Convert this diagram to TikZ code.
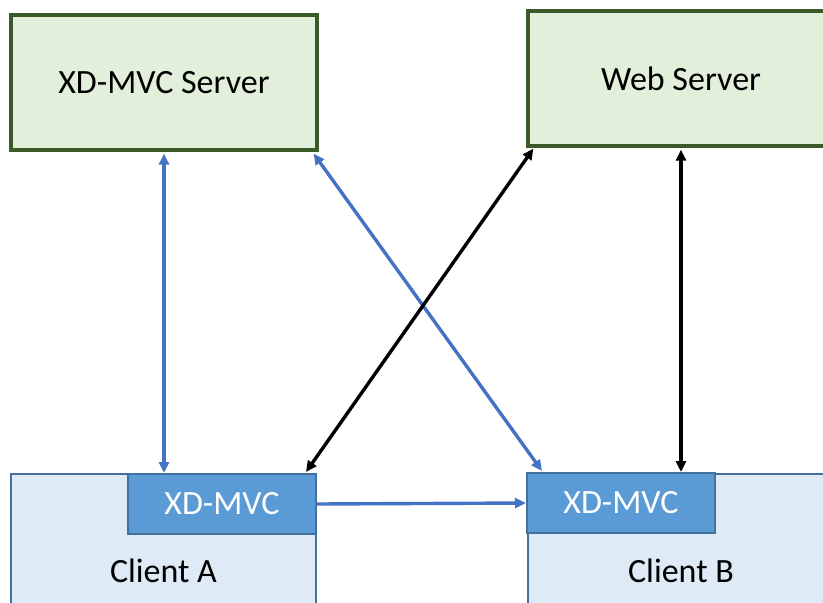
\documentclass[tikz,border=0pt]{standalone}
\usepackage{fontspec}
\setmainfont{Carlito}
\usetikzlibrary{arrows.meta,calc}
\definecolor{srvfill}{HTML}{E2EFDA}
\definecolor{srvline}{HTML}{3A5A28}
\definecolor{clifill}{HTML}{DEEBF7}
\definecolor{cliline}{HTML}{41719C}
\definecolor{mvcfill}{HTML}{5B9BD5}
\definecolor{linkblue}{HTML}{4472C4}
\tikzset{
  serverbox/.style={draw=srvline, fill=srvfill, line width=3.2pt, inner sep=0pt,
    font=\fontsize{34}{40}\selectfont},
  clientbox/.style={draw=cliline, fill=clifill, line width=2.6pt, inner sep=0pt,
    font=\fontsize{34}{40}\selectfont},
  mvcbox/.style={draw=cliline, fill=mvcfill, line width=2pt, inner sep=0pt,
    text=white, font=\fontsize{34}{40}\selectfont},
  tip/.tip={Triangle[length=11pt,width=10pt]},
  bluelink/.style={draw=linkblue, line width=3.4pt},
  blacklink/.style={draw=black, line width=3.4pt},
}
\begin{document}
\begin{tikzpicture}[x=1pt,y=-1pt]
  \useasboundingbox (0,0) rectangle (823,603);
  \clip (0,0) rectangle (823,603);

  % servers
  \node[serverbox, minimum width=306pt, minimum height=135pt] (xsrv) at (164,82.5) {XD-MVC Server};
  \node[serverbox, minimum width=306pt, minimum height=135pt] (web) at (681,78.5) {Web Server};

  % clients (run past the lower edge)
  \node[clientbox, minimum width=305pt, minimum height=194pt] (cliA) at (163.5,571) {Client A};
  \node[clientbox, minimum width=306pt, minimum height=194pt] (cliB) at (681,571) {Client B};

  % XD-MVC modules inside the clients
  \node[mvcbox, minimum width=188pt, minimum height=60pt] (mvcA) at (222,504) {XD-MVC};
  \node[mvcbox, minimum width=188pt, minimum height=60pt] (mvcB) at (621,503) {XD-MVC};

  % connector end points
  \coordinate (xsrvS) at ($(xsrv.south)+(0,2)$);
  \coordinate (mvcAtop) at (xsrvS |- mvcA.north);
  \coordinate (xsrvSE) at ($(xsrv.south east)+(-5,2)$);
  \coordinate (mvcBnw) at ($(mvcB.north west)+(16,-1)$);
  \coordinate (webSW) at ($(web.south west)+(7,1)$);
  \coordinate (mvcAne) at ($(mvcA.north east)+(-11,-1)$);
  \coordinate (webS) at ($(web.south)+(0,2)$);
  \coordinate (mvcBtop) at (webS |- mvcB.north);

  % links
  \draw[bluelink, {tip}-{tip}] (xsrvS) -- (mvcAtop);
  \draw[bluelink, {tip}-{tip}] (xsrvSE) -- (mvcBnw);
  \draw[blacklink, {tip}-{tip}] (webSW) -- (mvcAne);
  \draw[blacklink, {tip}-{tip}] (webS) -- (mvcBtop);
  \draw[bluelink, -{tip}] (mvcA.east) -- (mvcB.west);
\end{tikzpicture}
\end{document}
